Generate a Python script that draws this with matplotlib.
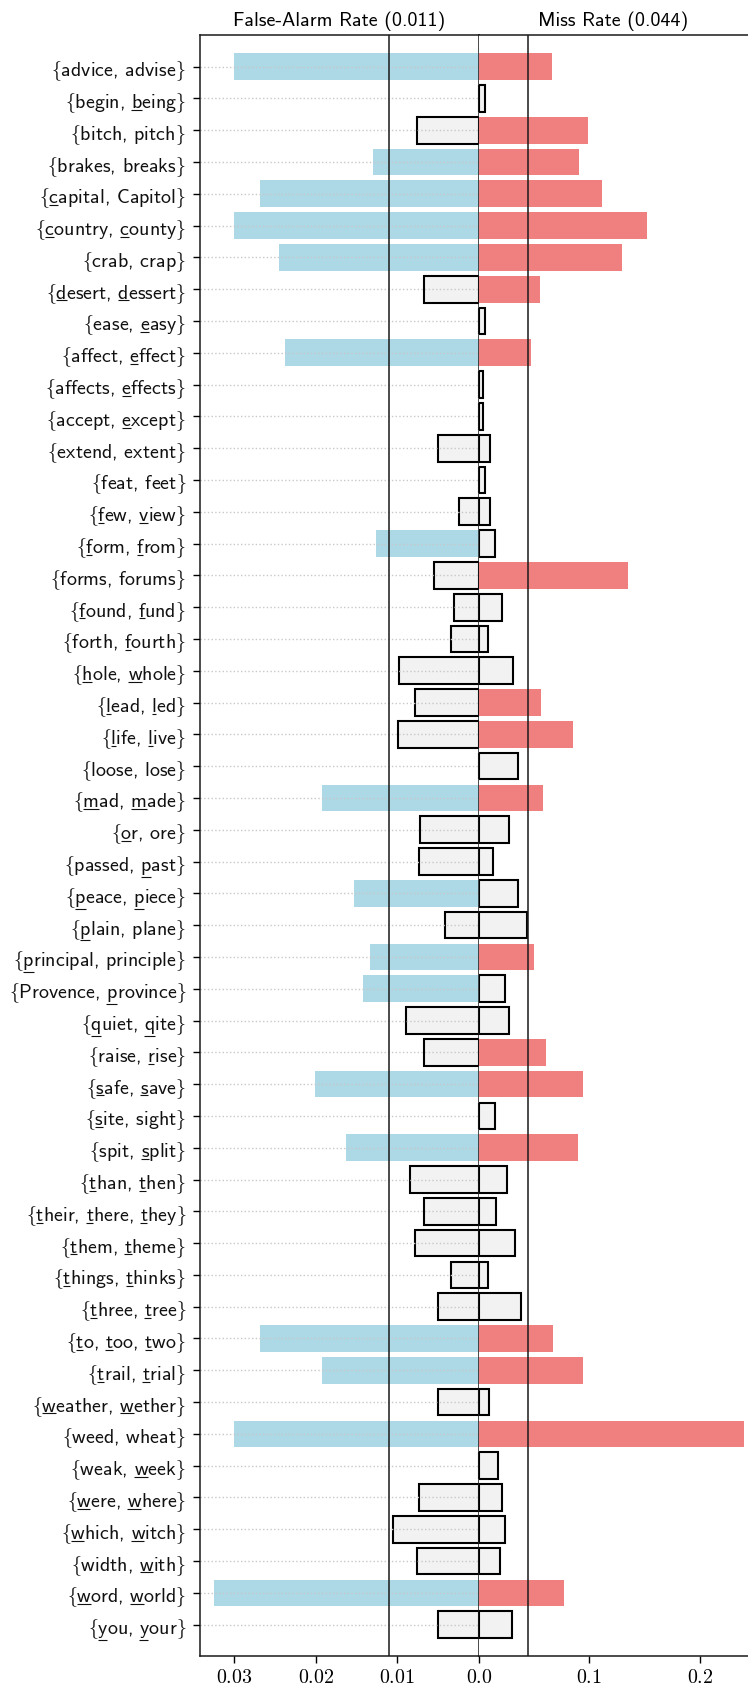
import matplotlib
matplotlib.use("Agg")
import matplotlib.pyplot as plt
from matplotlib.lines import Line2D
import numpy as np

plt.rcParams["mathtext.fontset"] = "cm"
plt.rcParams["mathtext.rm"] = "cmsy10"   # used only by the 'custom' math family (normal-size braces)
plt.rcParams["font.family"] = "cmss10"
plt.rcParams["axes.unicode_minus"] = False

# ---------------- data ----------------
# a leading "_" marks a word whose first letter is underlined
pairs = [
    "advice, advise", "begin, _being", "bitch, pitch", "brakes, breaks",
    "_capital, Capitol", "_country, _county", "crab, crap", "_desert, _dessert",
    "ease, _easy", "affect, _effect", "affects, _effects", "accept, _except",
    "extend, extent", "feat, feet", "_few, _view", "_form, _from",
    "forms, forums", "_found, _fund", "forth, _fourth", "_hole, _whole",
    "_lead, _led", "_life, _live", "loose, lose", "_mad, _made", "_or, ore",
    "passed, _past", "_peace, _piece", "_plain, plane", "_principal, principle",
    "Provence, _province", "_quiet, _qite", "raise, _rise", "_safe, _save",
    "_site, sight", "spit, _split", "_than, _then", "_their, _there, _they",
    "_them, _theme", "_things, _thinks", "_three, _tree", "_to, _too, _two",
    "_trail, _trial", "_weather, _wether", "weed, wheat", "weak, _week",
    "_were, _where", "_which, _witch", "width, _with", "_word, _world",
    "_you, _your",
]

fa_rate = [
    0.0300, 0.0, 0.0076, 0.0130, 0.0268, 0.0300, 0.0245, 0.0067, 0.0, 0.0238,
    0.0, 0.0, 0.0050, 0.0, 0.0025, 0.0126, 0.0055, 0.0030, 0.0034, 0.0098,
    0.0078, 0.0099, 0.0, 0.0192, 0.0072, 0.0074, 0.0153, 0.0041, 0.0133, 0.0142,
    0.0090, 0.0067, 0.0201, 0.0, 0.0163, 0.0085, 0.0067, 0.0078, 0.0034, 0.0050,
    0.0268, 0.0192, 0.0050, 0.0300, 0.0, 0.0074, 0.0105, 0.0076, 0.0325, 0.0050,
]

miss_rate = [
    0.0658, 0.0054, 0.0987, 0.0908, 0.1117, 0.1522, 0.1297, 0.0557, 0.0054, 0.0475,
    0.0041, 0.0041, 0.0104, 0.0054, 0.0104, 0.0146, 0.1354, 0.0212, 0.0079, 0.0313,
    0.0566, 0.0854, 0.0354, 0.0579, 0.0275, 0.0127, 0.0354, 0.0434, 0.0503, 0.0237,
    0.0275, 0.0608, 0.0946, 0.0146, 0.0896, 0.0250, 0.0158, 0.0329, 0.0079, 0.0380,
    0.0674, 0.0946, 0.0095, 0.2399, 0.0174, 0.0212, 0.0237, 0.0187, 0.0766, 0.0304,
]

fa_thr = 0.011
miss_thr = 0.044

fa_ticks = [0.03, 0.02, 0.01, 0.0]
fa_ticklabels = ["$0.03$", "$0.02$", "$0.01$", "$0.0$"]
miss_ticks = [0.1, 0.2]
miss_ticklabels = ["$0.1$", "$0.2$"]

# ---------------- figure ----------------
FS = 14.4
W, H = 748, 1690
fig = plt.figure(figsize=(W / 100, H / 100), dpi=100)
x_left, x_zero, x_right = 200.0, 478.9, 748.0
y_top, y_bot = 35.5, 1656.5
axL = fig.add_axes([x_left / W, 1 - y_bot / H, (x_zero - x_left) / W, (y_bot - y_top) / H])
axR = fig.add_axes([x_zero / W, 1 - y_bot / H, (x_right - x_zero) / W, (y_bot - y_top) / H],
                   sharey=axL)

LB, RB = r"$\mathrm{f}$", r"$\mathrm{g}$"   # cmsy10 glyphs for { and }
y = np.arange(len(pairs))
plain_words = [[w.strip().lstrip("_") for w in p.split(",")] for p in pairs]
label_texts = [", ".join(ws) for ws in plain_words]
labels = [LB + t + RB for t in label_texts]

fa_face = ["lightblue" if v > fa_thr else "#f2f2f2" for v in fa_rate]
fa_edge = ["none" if v > fa_thr else "black" for v in fa_rate]
ms_face = ["lightcoral" if v > miss_thr else "#f2f2f2" for v in miss_rate]
ms_edge = ["none" if v > miss_thr else "black" for v in miss_rate]

BH = 0.84
axL.barh(y, fa_rate, height=BH, color=fa_face, edgecolor=fa_edge, linewidth=1.5, zorder=1)
axR.barh(y, miss_rate, height=BH, color=ms_face, edgecolor=ms_edge, linewidth=1.5, zorder=1)

axL.axvline(fa_thr, color="#1a1a1a", lw=1.1, zorder=3)
axR.axvline(miss_thr, color="#1a1a1a", lw=1.1, zorder=3)

axL.set_xlim(0.0342, 0.0)
axR.set_xlim(0.0, 0.2436)
axL.set_ylim(49.97, -1.01)

axL.set_yticks(y)
axL.set_yticklabels(labels, fontsize=FS, color="#111111", math_fontfamily="custom")
axL.tick_params(axis="y", length=5, width=1, pad=5)
axR.tick_params(axis="y", left=False, labelleft=False, right=False)

axL.set_xticks(fa_ticks)
axL.set_xticklabels(fa_ticklabels, fontsize=FS)
axR.set_xticks(miss_ticks)
axR.set_xticklabels(miss_ticklabels, fontsize=FS)
for ax in (axL, axR):
    ax.tick_params(axis="x", length=5, width=1, pad=4)

axL.grid(axis="y", linestyle=":", color="#c8c8c8", linewidth=1.0)
axL.grid(axis="x", visible=False)
axL.set_axisbelow(False)

for ax in (axL, axR):
    for s in ax.spines.values():
        s.set_linewidth(1.1)
        s.set_color("#1a1a1a")
axR.spines["left"].set_visible(False)
axR.spines["right"].set_visible(False)

axL.set_title(f"False-Alarm Rate ({fa_thr:.3f})", fontsize=FS, pad=6.5)
axR.set_title(f"Miss Rate ({miss_thr:.3f})", fontsize=FS, pad=6.5)

# ---------------- underlines (like LaTeX \underline) ----------------
fig.canvas.draw()
renderer = fig.canvas.get_renderer()
em = FS * fig.dpi / 72.0
inv = fig.transFigure.inverted()
for p, text, t in zip(pairs, label_texts, axL.get_yticklabels()):
    prop = t.get_fontproperties()
    bb = t.get_window_extent(renderer)
    d_full = renderer.get_text_width_height_descent(t.get_text(), prop, ismath=True)[2]
    d_lp = renderer.get_text_width_height_descent("lp", prop, ismath=False)[2]
    base = bb.y0 + max(d_full, d_lp)
    pos = 0
    for w in [w.strip() for w in p.split(",")]:
        pw = w.lstrip("_")
        if w.startswith("_"):
            w1 = renderer.get_text_width_height_descent(text[pos:] + RB, prop, ismath=True)[0]
            w2 = renderer.get_text_width_height_descent(text[pos + 1:] + RB, prop, ismath=True)[0]
            dc = renderer.get_text_width_height_descent(text[pos], prop, ismath=False)[2]
            x0, x1 = bb.x1 - w1, bb.x1 - w2
            yl = base - dc - 0.14 * em
            (fx0, fy), (fx1, _) = inv.transform([(x0, yl), (x1, yl)])
            fig.add_artist(Line2D([fx0, fx1], [fy, fy], transform=fig.transFigure,
                                  color="#111111", lw=0.8, solid_capstyle="butt"))
        pos += len(pw) + 2

fig.savefig("out.png", dpi=100)
